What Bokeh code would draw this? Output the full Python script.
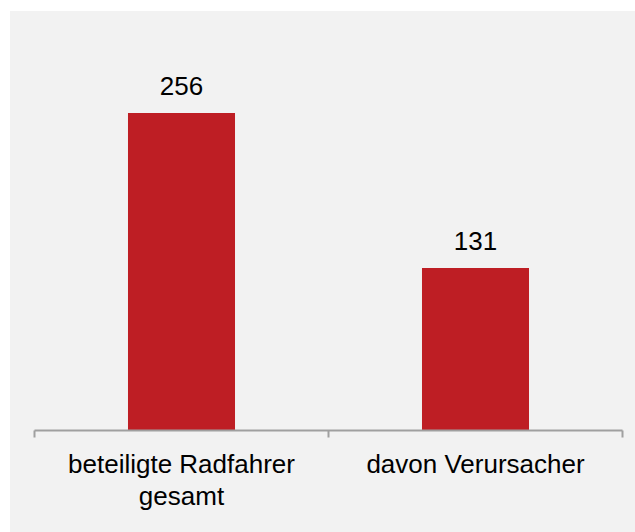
from bokeh.plotting import figure
from bokeh.models import ColumnDataSource, FixedTicker, Range1d
from bokeh.core.properties import value
from bokeh.embed import file_html
from bokeh.resources import INLINE

categories = ["beteiligte Radfahrer\ngesamt", "davon Verursacher"]
values = [256, 131]

xs = [i + 0.5 for i in range(len(categories))]
labels = [str(v) for v in values]

source = ColumnDataSource(dict(x=xs, top=values, label=labels))

BG = "#f2f2f2"
RED = "#be1e24"
FONT = "Liberation Sans"

p = figure(width=625, height=521, output_backend="svg", toolbar_location=None,
           x_range=Range1d(0, len(categories)), y_range=Range1d(0, 300),
           min_border_left=24, min_border_right=13, min_border_top=47, min_border_bottom=102,
           background_fill_color=None, border_fill_color=None, outline_line_color=None,
           margin=(11, 0, 0, 10), styles={"background-color": BG})

p.vbar(x="x", top="top", width=0.364, bottom=0, source=source,
       fill_color=RED, line_color=None)

p.text(x="x", y="top", text="label", source=source, text_align="center",
       text_baseline="alphabetic", y_offset=-27, text_font=value(FONT),
       text_font_size="26px", text_color="#000000")

p.yaxis.visible = False
p.grid.visible = False

ax = p.xaxis[0]
ax.ticker = FixedTicker(ticks=xs, minor_ticks=list(range(len(categories) + 1)))
ax.major_label_overrides = {x: c for x, c in zip(xs, categories)}
ax.major_tick_out = 0
ax.major_tick_in = 0
ax.minor_tick_in = 0
ax.minor_tick_out = 7
ax.minor_tick_line_color = "#a0a0a0"
ax.minor_tick_line_width = 2
ax.axis_line_color = "#a0a0a0"
ax.axis_line_width = 2
ax.major_label_standoff = 11
ax.major_label_text_font = FONT
ax.major_label_text_font_size = "26px"
ax.major_label_text_line_height = 1.08
ax.major_label_text_color = "#000000"

open("out.html", "w").write(file_html(p, INLINE))
